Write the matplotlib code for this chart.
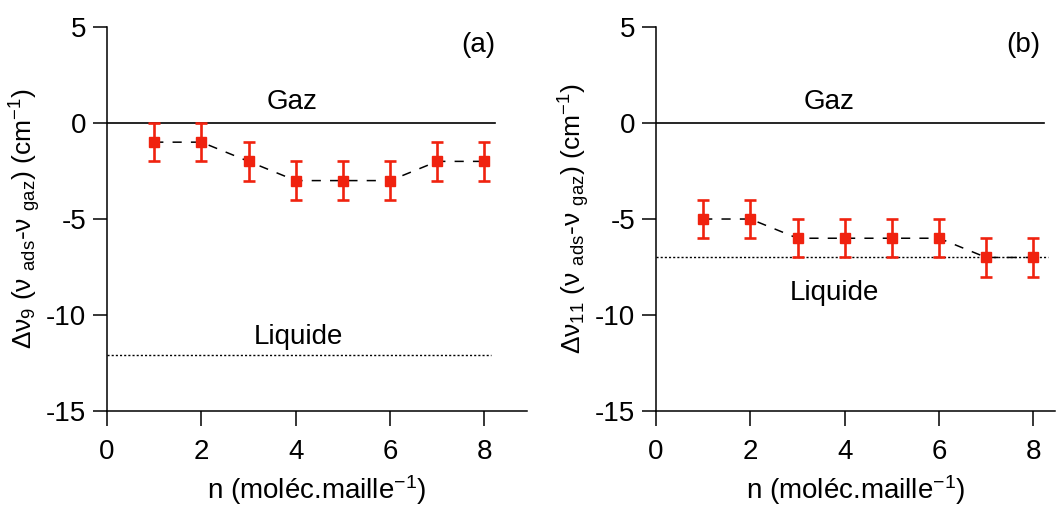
import matplotlib
matplotlib.use("Agg")
import matplotlib.pyplot as plt

plt.rcParams['font.family'] = ['Liberation Sans', 'DejaVu Sans']
plt.rcParams['mathtext.fontset'] = 'custom'
plt.rcParams['mathtext.rm'] = 'Liberation Sans'
plt.rcParams['mathtext.it'] = 'Liberation Sans'
plt.rcParams['mathtext.sf'] = 'Liberation Sans'

n = [1, 2, 3, 4, 5, 6, 7, 8]
dv9 = [-1, -1, -2, -3, -3, -3, -2, -2]
err9 = [1, 1, 1, 1, 1, 1, 1, 1]
dv11 = [-5, -5, -6, -6, -6, -6, -7, -7]
err11 = [1, 1, 1, 1, 1, 1, 1, 1]
liq9 = -12.1
liq11 = -7.0
gaz = 0.0

fig = plt.figure(figsize=(10.63, 5.07), dpi=100)
ax1 = fig.add_axes([0.1007, 0.189, 0.395, 0.758])
ax2 = fig.add_axes([0.6171, 0.189, 0.375, 0.758])

panels = [
    (ax1, dv9, err9, liq9, 8.9, r'$\Delta\nu_9$', '(a)', 7.86, (3.93, 1.1), (4.05, -11.15), 8.13),
    (ax2, dv11, err11, liq11, 8.45, r'$\Delta\nu_{11}$', '(b)', 7.79, (3.66, 1.1), (3.79, -8.85), 8.3),
]

for ax, y, e, liq, xmax, sym, tag, tagx, gpos, lpos, liqend in panels:
    ax.plot([0, 8.22], [gaz, gaz], color='black', lw=1.2)
    ax.plot([0, liqend], [liq, liq], color='black', lw=1.0, ls=(0, (1.5, 1.5)))
    ax.plot(n, y, color='black', lw=1.1, ls=(0, (6, 6)), zorder=2)
    ax.errorbar(n, y, yerr=e, fmt='s', color='#f0220f', ms=7, capsize=4,
                elinewidth=1.9, capthick=1.9, zorder=3, ecolor='#f0220f')
    ax.set_xlim(0, xmax)
    ax.set_ylim(-15, 5)
    ax.set_xticks([0, 2, 4, 6, 8])
    ax.set_yticks([5, 0, -5, -10, -15])
    ax.set_yticklabels(['5', '0', '-5', '-10', '-15'])
    for s in ['top', 'right']:
        ax.spines[s].set_visible(False)
    for s in ['left', 'bottom']:
        ax.spines[s].set_linewidth(1.1)
    ax.tick_params(axis='x', direction='out', length=11, width=1.1, labelsize=20, pad=9)
    ax.tick_params(axis='y', direction='out', length=10, width=1.1, labelsize=20, pad=5)
    ax.text(gpos[0], gpos[1], 'Gaz', fontsize=20, ha='center', va='center')
    ax.text(lpos[0], lpos[1], 'Liquide', fontsize=20, ha='center', va='center')
    ax.text(tagx, 4.05, tag, fontsize=20, ha='center', va='center')
    ax.set_xlabel(r'n (moléc.maille$^{-1}$)', fontsize=20, labelpad=6)
    ax.set_ylabel(sym + r' ($\nu$ $_{\mathrm{ads}}$-$\nu$ $_{\mathrm{gaz}}$) (cm$^{-1}$)',
                  fontsize=19, labelpad=2)

fig.savefig('out.png', dpi=100)
